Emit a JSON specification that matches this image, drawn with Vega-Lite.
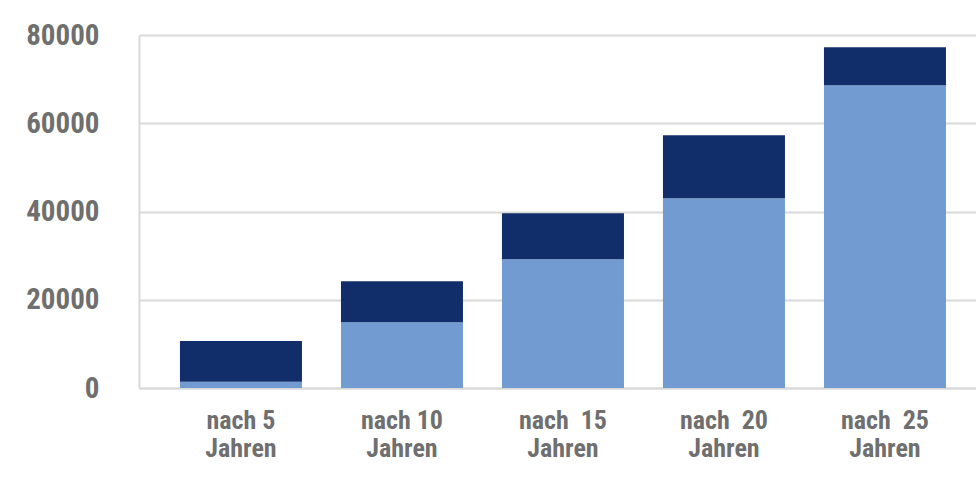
{
  "$schema": "https://vega.github.io/schema/vega-lite/v6.json",
  "autosize": {"type": "none"},
  "padding": {"left": 139, "top": 35, "right": 0, "bottom": 106},
  "width": 837,
  "height": 353,
  "background": "white",
  "data": {
    "values": [
      {"Zeitraum": "nach 5 Jahren", "Serie": "Serie 1", "Reihenfolge": 1, "Wert": 1400},
      {"Zeitraum": "nach 5 Jahren", "Serie": "Serie 2", "Reihenfolge": 2, "Wert": 9250},
      {"Zeitraum": "nach 10 Jahren", "Serie": "Serie 1", "Reihenfolge": 1, "Wert": 14900},
      {"Zeitraum": "nach 10 Jahren", "Serie": "Serie 2", "Reihenfolge": 2, "Wert": 9300},
      {"Zeitraum": "nach\u00a0 15 Jahren", "Serie": "Serie 1", "Reihenfolge": 1, "Wert": 29200},
      {"Zeitraum": "nach\u00a0 15 Jahren", "Serie": "Serie 2", "Reihenfolge": 2, "Wert": 10400},
      {"Zeitraum": "nach\u00a0 20 Jahren", "Serie": "Serie 1", "Reihenfolge": 1, "Wert": 43000},
      {"Zeitraum": "nach\u00a0 20 Jahren", "Serie": "Serie 2", "Reihenfolge": 2, "Wert": 14300},
      {"Zeitraum": "nach\u00a0 25 Jahren", "Serie": "Serie 1", "Reihenfolge": 1, "Wert": 68600},
      {"Zeitraum": "nach\u00a0 25 Jahren", "Serie": "Serie 2", "Reihenfolge": 2, "Wert": 8600}
    ]
  },
  "mark": {"type": "bar"},
  "encoding": {
    "x": {
      "field": "Zeitraum",
      "type": "nominal",
      "sort": null,
      "scale": {"paddingInner": 0.2422, "paddingOuter": 0.2205, "align": 0.577},
      "axis": {
        "title": null,
        "labelAngle": 0,
        "labelExpr": "[replace(datum.label, ' Jahren', ''), 'Jahren']",
        "labelFont": "Roboto Condensed, DejaVu Sans Condensed, sans-serif",
        "labelFontWeight": "bold",
        "labelFontSize": 26,
        "labelColor": "#6f6f6f",
        "labelLineHeight": 28,
        "labelPadding": 19,
        "ticks": false,
        "domain": true,
        "domainColor": "#d9d9d9",
        "domainWidth": 2,
        "grid": false
      }
    },
    "y": {
      "field": "Wert",
      "type": "quantitative",
      "stack": "zero",
      "scale": {"domain": [0, 80000], "nice": false},
      "axis": {
        "title": null,
        "values": [0, 20000, 40000, 60000, 80000],
        "format": "d",
        "labelFont": "Roboto Condensed, DejaVu Sans Condensed, sans-serif",
        "labelFontWeight": "bold",
        "labelFontSize": 29,
        "labelColor": "#6f6f6f",
        "labelPadding": 40,
        "ticks": false,
        "domain": true,
        "domainColor": "#d9d9d9",
        "domainWidth": 2,
        "grid": true,
        "gridColor": "#d9d9d9",
        "gridWidth": 2
      }
    },
    "color": {
      "field": "Serie",
      "type": "nominal",
      "scale": {"domain": ["Serie 1", "Serie 2"], "range": ["#729bd1", "#122e6a"]},
      "legend": null
    },
    "order": {"field": "Reihenfolge", "type": "quantitative"}
  },
  "config": {
    "view": {"stroke": null}
  }
}
